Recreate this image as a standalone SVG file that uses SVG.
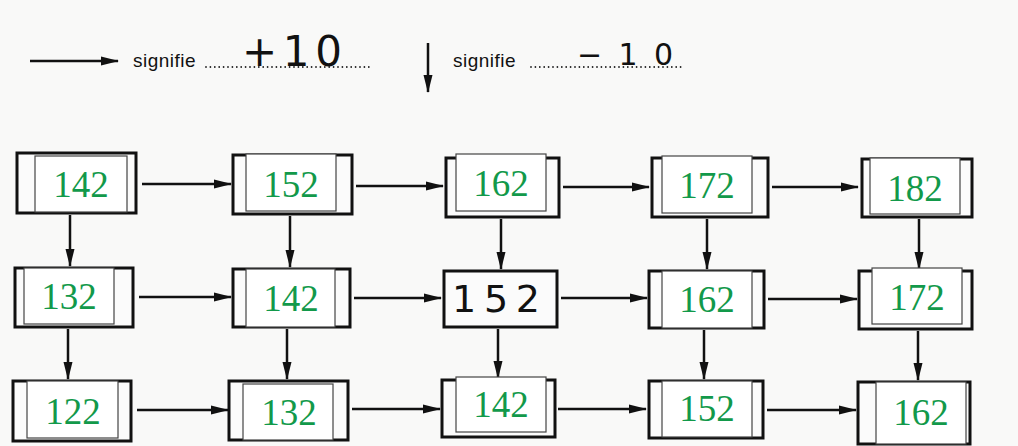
<svg xmlns="http://www.w3.org/2000/svg" width="1018" height="446" viewBox="0 0 1018 446">
<style>
.outer{fill:#fbfbfb;stroke:#111;stroke-width:3}
.inner{fill:#fff;stroke:#444;stroke-width:1.2}
.num{font-family:"Liberation Serif","Times New Roman",serif;font-size:37px;fill:#12994a;text-anchor:middle}
.hand{font-family:"DejaVu Sans","Liberation Sans",sans-serif;fill:#111;text-anchor:middle}
.lbl{font-family:"Liberation Sans",Arial,sans-serif;font-size:19px;fill:#111;letter-spacing:0.5px}
.arr{stroke:#111;stroke-width:2.5;fill:none;marker-end:url(#ah)}
.dots{stroke:#222;stroke-width:1.8;stroke-linecap:round;stroke-dasharray:0 4.4}
</style>
<defs>
<marker id="ah" markerUnits="userSpaceOnUse" markerWidth="18" markerHeight="10" refX="17" refY="5" orient="auto">
<path d="M0,0.5 L18,5 L0,9.5 z" fill="#111"/>
</marker>
</defs>
<rect width="1018" height="446" fill="#f9f9f8"/>

<g id="legend">
<line class="arr" x1="30" y1="61" x2="118" y2="61"/>
<text class="lbl" x="133" y="67">signifie</text>
<line class="dots" x1="206" y1="67" x2="369" y2="67"/>
<text class="hand" x="292" y="66" font-size="42" textLength="100" lengthAdjust="spacing">+10</text>
<line class="arr" x1="428" y1="43" x2="428" y2="92"/>
<text class="lbl" x="453" y="67">signifie</text>
<line class="dots" x1="531" y1="67" x2="684" y2="67"/>
<text class="hand" x="625" y="65" font-size="30" textLength="96" lengthAdjust="spacing">−10</text>
</g>

<g id="connectors">
<line class="arr" x1="142" y1="184" x2="231" y2="184"/>
<line class="arr" x1="356" y1="186" x2="443" y2="186"/>
<line class="arr" x1="563" y1="187" x2="649" y2="187"/>
<line class="arr" x1="772" y1="187" x2="858" y2="187"/>
<line class="arr" x1="139" y1="297" x2="231" y2="297"/>
<line class="arr" x1="354" y1="298" x2="441" y2="298"/>
<line class="arr" x1="561" y1="298" x2="647" y2="298"/>
<line class="arr" x1="768" y1="299" x2="857" y2="299"/>
<line class="arr" x1="137" y1="410" x2="228" y2="410"/>
<line class="arr" x1="352" y1="409" x2="440" y2="409"/>
<line class="arr" x1="558" y1="409" x2="646" y2="409"/>
<line class="arr" x1="767" y1="410" x2="856" y2="410"/>
<line class="arr" x1="70" y1="215" x2="70" y2="266"/>
<line class="arr" x1="290" y1="216" x2="290" y2="267"/>
<line class="arr" x1="501" y1="219" x2="501" y2="269"/>
<line class="arr" x1="707" y1="219" x2="707" y2="269"/>
<line class="arr" x1="919" y1="219" x2="919" y2="269"/>
<line class="arr" x1="68" y1="329" x2="68" y2="379"/>
<line class="arr" x1="287" y1="329" x2="287" y2="379"/>
<line class="arr" x1="498" y1="329" x2="498" y2="378"/>
<line class="arr" x1="704" y1="330" x2="704" y2="379"/>
<line class="arr" x1="918" y1="331" x2="918" y2="380"/>
</g>

<g id="n11"><rect class="outer" x="17" y="153" width="119" height="60"/><rect class="inner" x="35" y="156" width="92" height="56"/><text class="num" x="81" y="197">142</text></g>
<g id="n12"><rect class="outer" x="233" y="155" width="119" height="59"/><rect class="inner" x="246" y="154" width="90" height="57"/><text class="num" x="291" y="197">152</text></g>
<g id="n13"><rect class="outer" x="446" y="158" width="113" height="59"/><rect class="inner" x="456" y="154" width="90" height="57"/><text class="num" x="501" y="196">162</text></g>
<g id="n14"><rect class="outer" x="652" y="158" width="116" height="59"/><rect class="inner" x="662" y="156" width="90" height="57"/><text class="num" x="707" y="198">172</text></g>
<g id="n15"><rect class="outer" x="862" y="159" width="110" height="58"/><rect class="inner" x="870" y="158" width="90" height="56"/><text class="num" x="915" y="201">182</text></g>

<g id="n21"><rect class="outer" x="15" y="268" width="118" height="59"/><rect class="inner" x="24" y="268" width="90" height="56"/><text class="num" x="69" y="309">132</text></g>
<g id="n22"><rect class="outer" x="233" y="269" width="117" height="58"/><rect class="inner" x="246" y="269" width="89" height="58"/><text class="num" x="291" y="311">142</text></g>
<g id="n23"><rect class="outer" x="444" y="271" width="113" height="56"/><text class="hand" x="496" y="312" font-size="38" textLength="88" lengthAdjust="spacing">152</text></g>
<g id="n24"><rect class="outer" x="649" y="271" width="115" height="57"/><rect class="inner" x="662" y="271" width="90" height="57"/><text class="num" x="707" y="312">162</text></g>
<g id="n25"><rect class="outer" x="859" y="271" width="113" height="58"/><rect class="inner" x="872" y="268" width="90" height="56"/><text class="num" x="917" y="310">172</text></g>

<g id="n31"><rect class="outer" x="13" y="381" width="118" height="60"/><rect class="inner" x="27" y="381" width="91" height="57"/><text class="num" x="73" y="424">122</text></g>
<g id="n32"><rect class="outer" x="229" y="381" width="119" height="59"/><rect class="inner" x="243" y="384" width="90" height="56"/><text class="num" x="289" y="425">132</text></g>
<g id="n33"><rect class="outer" x="442" y="380" width="113" height="57"/><rect class="inner" x="456" y="377" width="90" height="55"/><text class="num" x="501" y="417">142</text></g>
<g id="n34"><rect class="outer" x="649" y="381" width="114" height="57"/><rect class="inner" x="662" y="381" width="90" height="56"/><text class="num" x="707" y="421">152</text></g>
<g id="n35"><rect class="outer" x="858" y="382" width="112" height="62"/><rect class="inner" x="876" y="382" width="90" height="62"/><text class="num" x="921" y="425">162</text></g>
</svg>
